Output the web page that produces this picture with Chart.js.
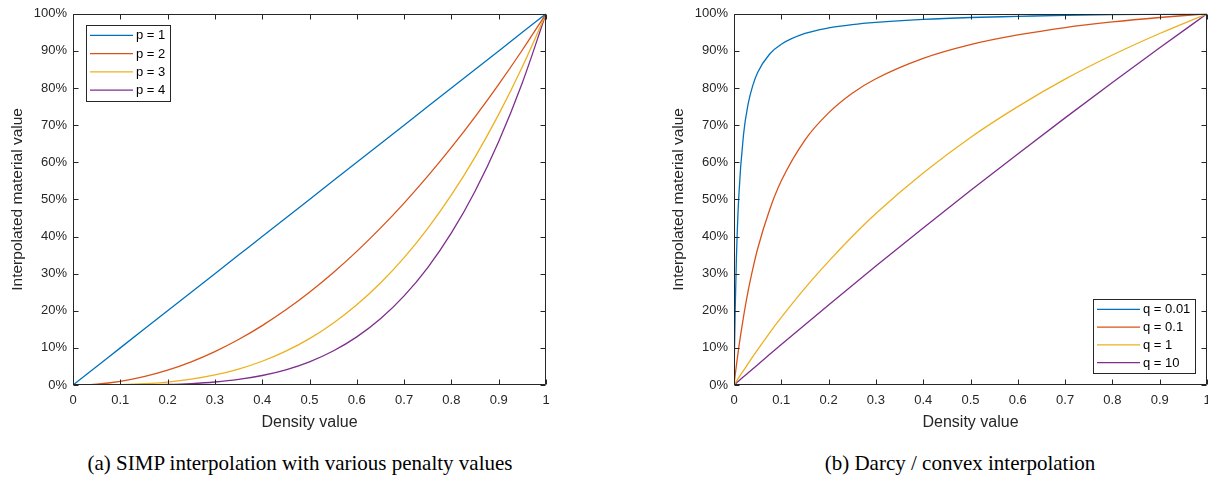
<!DOCTYPE html>
<html><head><meta charset="utf-8">
<script src="https://cdn.jsdelivr.net/npm/chart.js@4.4.1/dist/chart.umd.min.js"></script>
<style>
html,body{margin:0;padding:0;background:#fff;overflow:hidden;width:1208px;height:479px;position:relative}
#c1{position:absolute;left:0;top:0}
#c2{position:absolute;left:604px;top:0}
.cap{position:absolute;top:451px;line-height:24px;font-family:"Liberation Serif","Times New Roman",serif;font-size:21px;color:#000;white-space:nowrap;transform:translateX(-50%)}
</style></head><body>
<canvas id="c1" width="604" height="440"></canvas>
<canvas id="c2" width="620" height="440"></canvas>
<div class="cap" style="left:300px">(a) SIMP interpolation with various penalty values</div>
<div class="cap" style="left:960px">(b) Darcy / convex interpolation</div>
<script>
// ---- data ----
const simpDensity = [0,0.05,0.1,0.15,0.2,0.25,0.3,0.35,0.4,0.45,0.5,0.55,0.6,0.65,0.7,0.75,0.8,0.85,0.9,0.95,1];
const simpP1 = [0,5,10,15,20,25,30,35,40,45,50,55,60,65,70,75,80,85,90,95,100];
const simpP2 = [0,0.25,1,2.25,4,6.25,9,12.25,16,20.25,25,30.25,36,42.25,49,56.25,64,72.25,81,90.25,100];
const simpP3 = [0,0.01,0.1,0.34,0.8,1.56,2.7,4.29,6.4,9.11,12.5,16.64,21.6,27.46,34.3,42.19,51.2,61.41,72.9,85.74,100];
const simpP4 = [0,0,0.01,0.05,0.16,0.39,0.81,1.5,2.56,4.1,6.25,9.15,12.96,17.85,24.01,31.64,40.96,52.2,65.61,81.45,100];
const simpLabels = ['p = 1','p = 2','p = 3','p = 4'];

const darcyDensity = [0,0.001,0.0025,0.005,0.01,0.02,0.03,0.04,0.05,0.075,0.1,0.15,0.2,0.25,0.3,0.4,0.5,0.6,0.7,0.8,0.9,1];
const darcyQ001 = [0,9.2,20.2,33.7,50.5,67.3,75.8,80.8,84.2,89.1,91.8,94.7,96.2,97.1,97.7,98.5,99.0,99.3,99.6,99.8,99.9,100];
const darcyQ01  = [0,1.1,2.7,5.2,10.0,18.3,25.4,31.4,36.7,47.1,55.0,66.0,73.3,78.6,82.5,88.0,91.7,94.3,96.3,97.8,99.0,100];
const darcyQ1   = [0,0.2,0.5,1.0,2.0,3.9,5.8,7.7,9.5,14.0,18.2,26.1,33.3,40.0,46.2,57.1,66.7,75.0,82.4,88.9,94.7,100];
const darcyQ10  = [0,0.11,0.27,0.55,1.10,2.20,3.29,4.38,5.47,8.19,10.89,16.26,21.57,26.83,32.04,42.31,52.38,62.26,71.96,81.48,90.83,100];
const darcyLabels = ['q = 0.01','q = 0.1','q = 1','q = 10'];

const xTickLabels = ['0','0.1','0.2','0.3','0.4','0.5','0.6','0.7','0.8','0.9','1'];
const yTickLabels = ['0%','10%','20%','30%','40%','50%','60%','70%','80%','90%','100%'];
const xTitle = 'Density value';
const yTitle = 'Interpolated material value';

// ---- styling ----
const COLORS = ['#0072BD','#D95319','#EDB120','#7E2F8E'];
const FONT = '"Liberation Sans", Arial, sans-serif';
const INK = '#262626';

const frame = {
  id:'frame',
  afterDatasetsDraw(chart){
    const {ctx, chartArea:a, scales:{x,y}} = chart;
    ctx.save();
    ctx.strokeStyle = INK; ctx.lineWidth = 1;
    const L=Math.round(a.left)+0.5, R=Math.round(a.right)-0.5, T=Math.round(a.top)+0.5, B=Math.round(a.bottom)-0.5;
    ctx.beginPath();
    ctx.rect(L,T,R-L,B-T);
    const len = 5;
    x.ticks.forEach(t=>{
      const px=Math.round(x.getPixelForValue(t.value))+0.5;
      ctx.moveTo(px,B); ctx.lineTo(px,B-len);
      ctx.moveTo(px,T); ctx.lineTo(px,T+len);
    });
    y.ticks.forEach(t=>{
      const py=Math.round(y.getPixelForValue(t.value))+0.5;
      ctx.moveTo(L,py); ctx.lineTo(L+len,py);
      ctx.moveTo(R,py); ctx.lineTo(R-len,py);
    });
    ctx.stroke();
    ctx.restore();
  },
  afterDraw(chart){
    const opt = chart.options.plugins.boxLegend;
    if(!opt) return;
    const {ctx, chartArea:a} = chart;
    const ds = chart.data.datasets;
    ctx.save();
    ctx.font = '13px ' + FONT;
    const tw = Math.max(...ds.map(d=>ctx.measureText(d.label).width));
    const padL=4, lineLen=43, gap=3, padR=5;
    const w = Math.round(padL+lineLen+gap+tw+padR);
    const rowH = opt.rowH, h = Math.round(10.3*2 + rowH*(ds.length-1));
    let bx, by;
    if(opt.pos==='nw'){ bx = a.left+13; by = a.top+11; }
    else { bx = a.right-12-w; by = a.bottom-12-h; }
    bx=Math.round(bx); by=Math.round(by);
    ctx.fillStyle='#fff';
    ctx.fillRect(bx,by,w,h);
    ctx.strokeStyle=INK; ctx.lineWidth=1;
    ctx.strokeRect(bx+0.5,by+0.5,w,h);
    ds.forEach((d,i)=>{
      const cy = by+10.3+i*rowH;
      ctx.strokeStyle=d.borderColor; ctx.lineWidth=1.3;
      ctx.beginPath(); ctx.moveTo(bx+padL,cy); ctx.lineTo(bx+padL+lineLen,cy); ctx.stroke();
      ctx.fillStyle='#000'; ctx.textBaseline='middle'; ctx.textAlign='left';
      ctx.fillText(d.label, bx+padL+lineLen+gap, cy+0.5);
    });
    ctx.restore();
  }
};

function makeChart(id, xs, series, labels, padLeft, padRight, legendPos, rowH){
  return new Chart(document.getElementById(id), {
    type:'line',
    data:{datasets: series.map((s,i)=>({
      label: labels[i],
      data: xs.map((x,j)=>({x:x, y:s[j]})),
      borderColor: COLORS[i], backgroundColor: COLORS[i],
      borderWidth: 1.3, pointRadius: 0, cubicInterpolationMode:'monotone', fill:false
    }))},
    options:{
      responsive:false, animation:false, devicePixelRatio:1,
      layout:{padding:{left:padLeft,right:padRight,top:13,bottom:0}},
      plugins:{legend:{display:false}, tooltip:{enabled:false}, boxLegend:{pos:legendPos,rowH:rowH}},
      scales:{
        x:{type:'linear', min:0, max:1,
          grid:{display:false, drawTicks:false, tickLength:0}, border:{display:false},
          ticks:{stepSize:0.1, padding:8, color:INK, font:{family:FONT,size:13}, maxRotation:0, autoSkip:false,
            callback:(v)=>xTickLabels[Math.round(v*10)]},
          title:{display:true, text:xTitle, color:INK, font:{family:FONT,size:16}, padding:8},
          afterFit:(s)=>{s.height=55;}
        },
        y:{type:'linear', min:0, max:100,
          grid:{display:false, drawTicks:false, tickLength:0}, border:{display:false},
          ticks:{stepSize:10, padding:6, color:INK, font:{family:FONT,size:13}, autoSkip:false,
            callback:(v)=>yTickLabels[Math.round(v/10)]},
          title:{display:true, text:yTitle, color:INK, font:{family:FONT,size:15.5}, padding:8},
          afterFit:(s)=>{s.width=73;}
        }
      }
    },
    plugins:[frame]
  });
}

makeChart('c1', simpDensity, [simpP1,simpP2,simpP3,simpP4], simpLabels, 0, 58, 'nw', 18.3);
makeChart('c2', darcyDensity, [darcyQ001,darcyQ01,darcyQ1,darcyQ10], darcyLabels, 57, 17, 'se', 17.8);
</script>
</body></html>
